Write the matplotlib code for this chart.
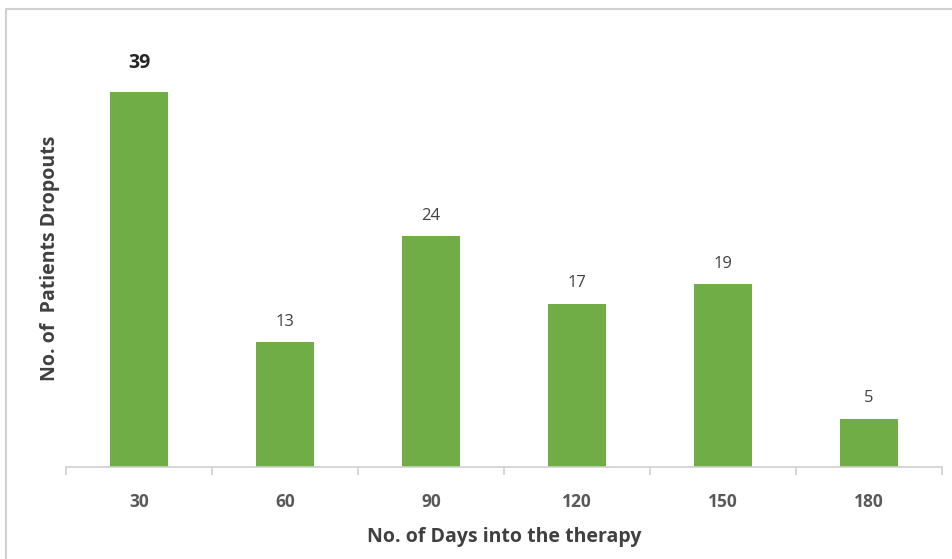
import matplotlib.pyplot as plt
from matplotlib.patches import Rectangle

days = ['30', '60', '90', '120', '150', '180']
dropouts = [39, 13, 24, 17, 19, 5]

plt.rcParams['font.family'] = ['Open Sans', 'DejaVu Sans']

W, H = 953, 559
fig = plt.figure(figsize=(W / 100, H / 100), dpi=100)

# light frame around the chart area (runs off the right and bottom edges)
fig.patches.append(Rectangle((6 / W, -0.1), 1.2, 1.1 - 9 / H,
                             transform=fig.transFigure, fill=False,
                             edgecolor='#d0d0d0', linewidth=1.5))

ax = fig.add_axes([66 / W, (H - 467) / H, (942 - 66) / W, (467 - 50) / H])

x = list(range(len(days)))
ax.bar(x, dropouts, width=0.4, color='#70ad47')

ax.set_xlim(-0.5, len(days) - 0.5)
ax.set_ylim(0, 43.4)

for i, v in enumerate(dropouts):
    if i == 0:
        ax.text(i, v + 2.0, str(v), ha='center', va='bottom',
                fontsize=14, fontweight='bold', color='#262626')
    else:
        ax.text(i, v + 1.3, str(v), ha='center', va='bottom',
                fontsize=12, color='#404040')

for s in ['top', 'right', 'left']:
    ax.spines[s].set_visible(False)
ax.spines['bottom'].set_color('#d0d0d0')
ax.spines['bottom'].set_linewidth(1.2)

ax.set_yticks([])
ax.set_xticks(x)
ax.set_xticklabels(days, fontsize=12.5, fontweight='bold', color='#595959')
ax.tick_params(axis='x', length=0, pad=19)
# category separators below the axis line
ax.set_xticks([i - 0.5 for i in range(len(days) + 1)], minor=True)
ax.tick_params(axis='x', which='minor', length=6, color='#d0d0d0', width=1.2)

ax.set_xlabel('No. of Days into the therapy', fontsize=14, fontweight='bold',
              color='#404040', labelpad=11)
ax.set_ylabel('No. of  Patients Dropouts', fontsize=14, fontweight='bold',
              color='#404040', labelpad=4)

fig.savefig('out.png', dpi=100)
